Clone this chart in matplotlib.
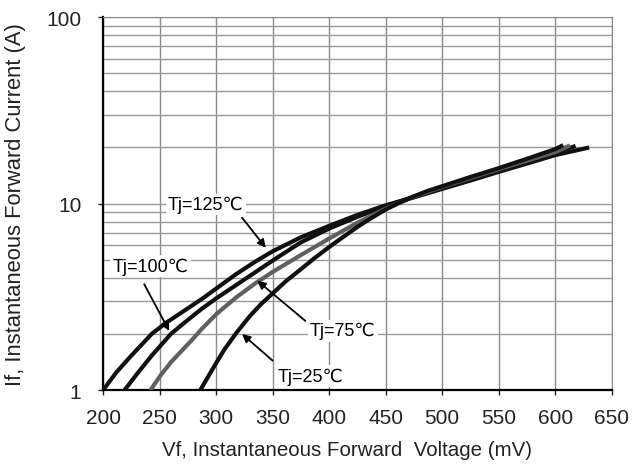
import numpy as np
import matplotlib.pyplot as plt
from matplotlib.ticker import LogLocator, NullFormatter, FixedLocator

plt.rcParams['font.family'] = ['Liberation Sans', 'DejaVu Sans']

# Forward characteristics (Vf in mV, If in A)
vf_125 = [200, 212, 225, 243, 255, 270, 288, 300, 318, 335, 350, 375, 400, 425,
          450, 475, 500, 525, 550, 575, 600, 630]
if_125 = [1.0, 1.25, 1.53, 2.0, 2.28, 2.62, 3.1, 3.5, 4.2, 4.9, 5.55, 6.6, 7.6, 8.7,
          9.8, 10.8, 12.0, 13.3, 14.8, 16.4, 18.2, 20.0]

vf_100 = [219, 230, 243, 260, 272, 287, 300, 313, 335, 350, 375, 400, 425, 450,
          475, 500, 550, 600, 618]
if_100 = [1.0, 1.22, 1.53, 2.0, 2.3, 2.72, 3.1, 3.5, 4.3, 4.95, 6.2, 7.35, 8.5, 9.7,
          10.9, 12.2, 15.1, 18.6, 20.4]

vf_75 = [242, 250, 260, 278, 288, 300, 318, 335, 350, 375, 400, 425, 450, 475,
         500, 550, 600, 613]
if_75 = [1.0, 1.18, 1.41, 1.84, 2.15, 2.55, 3.15, 3.75, 4.3, 5.3, 6.5, 7.9, 9.4, 10.9,
         12.3, 15.3, 18.9, 20.5]

vf_25 = [286, 297, 307, 318, 330, 340, 350, 362, 375, 387, 400, 412, 425, 437,
         450, 462, 475, 487, 500, 525, 550, 575, 600, 607]
if_25 = [1.0, 1.3, 1.64, 2.03, 2.5, 2.9, 3.3, 3.85, 4.45, 5.1, 5.85, 6.6, 7.5, 8.35,
         9.3, 10.1, 10.95, 11.7, 12.4, 13.9, 15.5, 17.4, 19.6, 20.6]

x_ticks = [200, 250, 300, 350, 400, 450, 500, 550, 600, 650]
y_ticks = [1, 10, 100]

fig = plt.figure(figsize=(6.32, 4.77), dpi=100)
ax = fig.add_axes([0.163, 0.180, 0.805, 0.782])

ax.set_xlim(200, 650)
ax.set_ylim(1, 100)
ax.set_yscale('log')
ax.xaxis.set_major_locator(FixedLocator(x_ticks))
ax.yaxis.set_major_locator(FixedLocator(y_ticks))
ax.yaxis.set_minor_locator(LogLocator(base=10, subs=np.arange(2, 10)))
ax.yaxis.set_minor_formatter(NullFormatter())
ax.set_yticklabels(['1', '10', '100'])

ax.grid(True, which='major', axis='x', color='#8a8a8a', lw=1.0)
ax.grid(True, which='both', axis='y', color='#9a9a9a', lw=1.0)
ax.tick_params(which='minor', length=0)
ax.tick_params(which='major', length=3.6, width=1, direction='out', labelsize=15, colors='#222')
ax.tick_params(axis='x', pad=9)
ax.tick_params(axis='y', pad=12)

for s in ['top', 'right']:
    ax.spines[s].set_color('#8a8a8a')
for s in ['left', 'bottom']:
    ax.spines[s].set_linewidth(1.6)

style = dict(lw=3.0, solid_capstyle='butt', solid_joinstyle='round', zorder=3)
ax.plot(vf_125, if_125, color='#111111', **style)
ax.plot(vf_100, if_100, color='#111111', **style)
ax.plot(vf_75, if_75, color='#606060', **style)
ax.plot(vf_25, if_25, color='#111111', **style)

box = dict(facecolor='white', edgecolor='none', pad=1.5)
arrow = dict(arrowstyle='-|>', color='black', lw=1.3, mutation_scale=12, shrinkA=0, shrinkB=0)

ax.text(291, 9.9, 'Tj=125℃', fontsize=13, ha='center', va='center', bbox=box, zorder=4)
ax.annotate('', xy=(344, 5.8), xytext=(323, 8.4), arrowprops=arrow, zorder=5)

ax.text(242, 4.64, 'Tj=100℃', fontsize=13, ha='center', va='center', bbox=box, zorder=4)
ax.annotate('', xy=(258.5, 2.08), xytext=(236.4, 3.7), arrowprops=arrow, zorder=5)

ax.text(412, 2.08, 'Tj=75℃', fontsize=13, ha='center', va='center', bbox=box, zorder=4)
ax.annotate('', xy=(336.5, 3.86), xytext=(379, 2.35), arrowprops=arrow, zorder=5)

ax.text(383.5, 1.19, 'Tj=25℃', fontsize=13, ha='center', va='center', bbox=box, zorder=4)
ax.annotate('', xy=(323, 2.0), xytext=(350, 1.44), arrowprops=arrow, zorder=5)

ax.set_xlabel('Vf, Instantaneous Forward  Voltage (mV)', fontsize=14.8, color='#222')
ax.set_ylabel('If, Instantaneous Forward Current (A)', fontsize=15.8, color='#222')
ax.xaxis.set_label_coords(0.48, -0.135)
ax.yaxis.set_label_coords(-0.152, 0.5)

fig.savefig('out.png', dpi=100)
